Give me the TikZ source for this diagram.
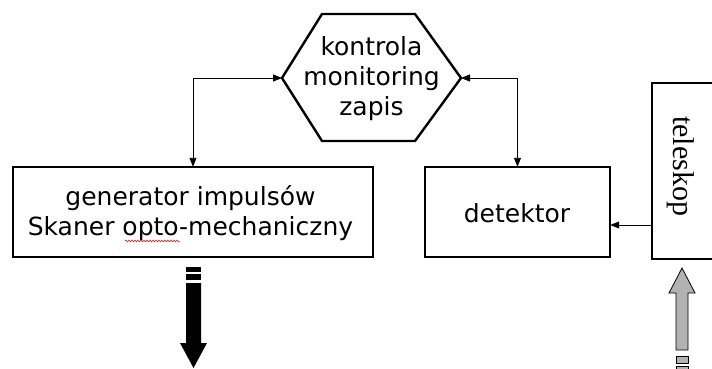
\documentclass[tikz,border=0pt]{standalone}
\usepackage{fontspec}
\setmainfont{DejaVu Sans}
\newfontfamily\serifface{Liberation Serif}
\usetikzlibrary{arrows.meta,decorations.pathmorphing}

\tikzset{
  blockbox/.style={draw=black, line width=2.6pt, fill=white},
  label/.style={font=\fontsize{25}{30}\selectfont, align=center, inner sep=0pt},
  link/.style={line width=0.9pt, {Triangle[length=9pt,width=7pt]}-{Triangle[length=9pt,width=7pt]}},
  feed/.style={line width=0.9pt, -{Triangle[length=9pt,width=7pt]}},
  blackarrow/.style={fill=black, draw=none},
  greyarrow/.style={fill=black!30, draw=black, line width=0.8pt},
}

\begin{document}
\begin{tikzpicture}[x=1pt, y=-1pt]
  \useasboundingbox (0,0) rectangle (712,368);

  % control hexagon
  \coordinate (hexL) at (282,78);
  \coordinate (hexR) at (461,78);
  \draw[line width=2.4pt, line join=miter]
    (322,14) -- (415,14) -- (hexR) -- (415,141) -- (322,141) -- (hexL) -- cycle;
  \node[label] (ctrl) at (371.5,79) {kontrola\\monitoring\\zapis};

  % generator / scanner block
  \draw[blockbox] (13,167) rectangle (373,257);
  \node (gen) at (193,212) [minimum width=360pt, minimum height=90pt, inner sep=0pt] {};
  \node[label] (gentext) at (190.5,213) {generator impulsów\\Skaner opto-mechaniczny};
  \draw[red!85!black, line width=0.5pt,
        decorate, decoration={snake, segment length=3pt, amplitude=0.9pt}]
    (125,241) -- (180,241);

  % detector block
  \draw[blockbox] (425,167) rectangle (610,257);
  \node (det) at (517.5,212) [minimum width=185pt, minimum height=90pt, inner sep=0pt] {};
  \node[label] (dettext) at (517,213) {detektor};

  % telescope block (runs past the right edge)
  \draw[blockbox] (652,83) rectangle (740,259);
  \node (tel) at (652,225) [inner sep=0pt] {};
  \node[font=\serifface\fontsize{30}{30}\selectfont, rotate=-90, inner sep=0pt]
    (teltext) at (681,166) {teleskop};

  % connectors
  \draw[link] (hexL) -| (gen.north);
  \draw[link] (hexR) -| (det.north);
  \draw[feed] (tel.center) -- (det.east |- tel.center);

  % output arrow (black)
  \fill[blackarrow] (186,267) rectangle (201,272);
  \fill[blackarrow] (186,274) rectangle (201,280);
  \fill[blackarrow] (186,283) -- (201,283) -- (201,343) -- (207,343)
    -- (193.5,368) -- (180,343) -- (186,343) -- cycle;

  % input arrow (grey)
  \draw[greyarrow] (682,268) -- (695,293) -- (688,293) -- (688,350)
    -- (676,350) -- (676,293) -- (669,293) -- cycle;
  \draw[greyarrow] (676,356) rectangle (688,363);
  \draw[greyarrow] (676,366) rectangle (688,372);
\end{tikzpicture}
\end{document}
